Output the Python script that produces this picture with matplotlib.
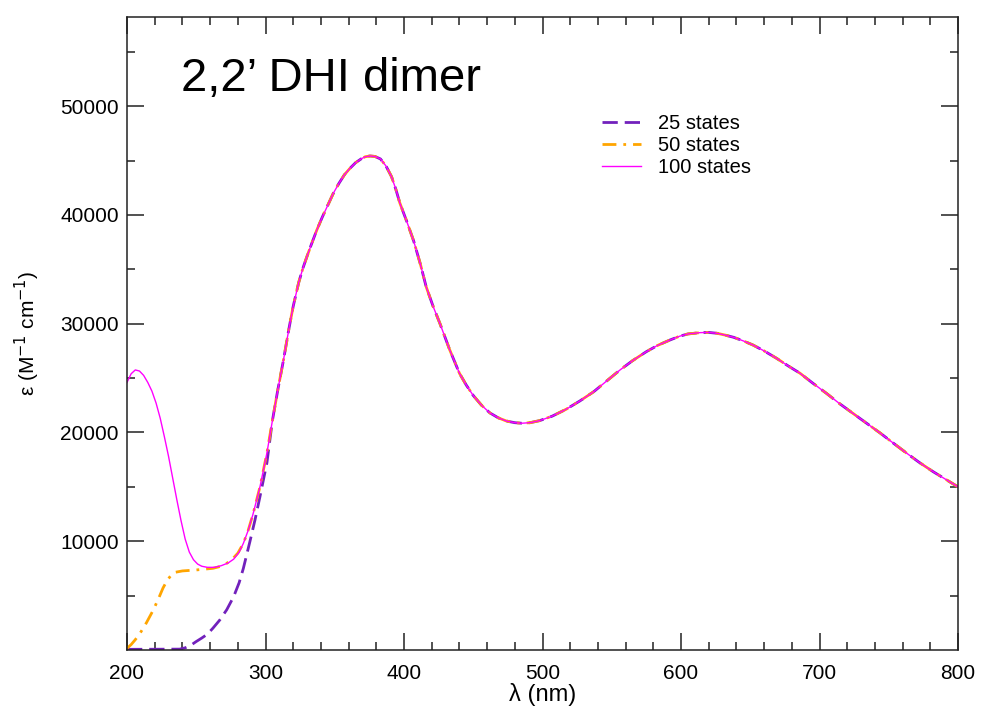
import numpy as np
import matplotlib
matplotlib.use("Agg")
import matplotlib.pyplot as plt

plt.rcParams['font.family'] = ['Liberation Sans', 'DejaVu Sans']

# part of the spectrum shared by all three calculations (nm, M^-1 cm^-1)
wl_main = [305, 309, 313, 317, 320, 324, 327, 330, 333, 337, 341, 345, 349, 353, 357, 361,
           365, 369, 372, 375.5, 379, 383, 387, 391, 394, 397, 402, 407, 412, 416, 421, 426,
           433, 440, 445, 450, 456, 462, 468, 474, 480, 485, 491, 498, 507, 517, 527, 537,
           546, 556, 565, 575, 583, 592, 599, 605, 614, 620, 626, 632, 638, 645, 652, 660,
           669, 677, 686, 695, 705, 714, 724, 734, 744, 753, 763, 772, 782, 791, 800]
eps_main = [21100, 24000, 26670, 29600, 31600, 33800, 35100, 36200, 37250, 38600, 39800,
            40900, 42000, 42900, 43700, 44290, 44800, 45150, 45350, 45420, 45380, 45150,
            44500, 43520, 42400, 41100, 39400, 37600, 35400, 33400, 31600, 30000, 27600,
            25450, 24350, 23400, 22500, 21800, 21350, 21050, 20900, 20850, 20900, 21090,
            21500, 22130, 22900, 23750, 24700, 25750, 26600, 27430, 28000, 28500, 28850,
            29060, 29180, 29200, 29120, 28950, 28750, 28420, 28040, 27500, 26820, 26150,
            25440, 24550, 23600, 22700, 21770, 20850, 19930, 19050, 18090, 17250, 16400,
            15700, 15000]

# short-wavelength part, different for each number of states
wl_25 = [200, 238, 242, 246, 250, 254, 258, 262, 267, 272, 277, 281, 284, 286.5, 288.8,
         292.4, 296, 301]
eps_25 = [60, 80, 200, 430, 780, 1100, 1450, 2000, 2760, 3700, 4900, 6200, 7500, 8800,
          10000, 11950, 14100, 17200]

wl_50 = [200, 203, 206, 209.4, 214, 219, 223, 226, 229, 232, 235, 240, 250, 262, 268, 272,
         276, 280, 284, 287.5, 291, 296, 301]
eps_50 = [150, 500, 950, 1530, 2500, 3680, 4800, 5700, 6400, 6900, 7150, 7270, 7360, 7510,
          7700, 7970, 8350, 8900, 9800, 11000, 12500, 15000, 18100]

wl_100 = [200, 203, 206, 209, 212, 215, 218, 221, 224, 227, 230, 233, 236, 239, 242, 245,
          248, 251, 254, 258, 263, 268, 273, 277, 281, 284, 287.5, 291, 296, 301]
eps_100 = [24600, 25400, 25750, 25650, 25250, 24600, 23800, 22700, 21300, 19600, 17800,
           15800, 13800, 11900, 10200, 9000, 8300, 7900, 7700, 7600, 7600, 7750, 8000, 8350,
           9000, 9800, 11000, 12500, 15000, 18100]

series = [
    ("25 states", wl_25, eps_25, "#7221BC", (0, (5.5, 2.5)), 2.0),
    ("50 states", wl_50, eps_50, "#FFA500", (0, (5, 2.5, 1, 2.5)), 2.0),
    ("100 states", wl_100, eps_100, "#FF00FF", "-", 1.0),
]

fig = plt.figure(figsize=(9.81, 7.09), dpi=100)
ax = fig.add_axes([127 / 981, 59 / 709, 831 / 981, 633 / 709])

for label, wl, eps, color, ls, lw in series:
    x = np.concatenate([wl, wl_main])
    y = np.concatenate([eps, eps_main])
    ax.plot(x, y, color=color, linestyle=ls, linewidth=lw, label=label)

ax.set_xlim(200, 800)
ax.set_ylim(0, 58200)
ax.set_xticks(np.arange(200, 801, 100))
ax.set_xticks(np.arange(200, 801, 20), minor=True)
ax.set_yticks(np.arange(10000, 50001, 10000))
ax.set_yticks(np.arange(5000, 58001, 5000), minor=True)

ax.tick_params(which='both', direction='in', top=True, right=True, width=1.1,
               colors='#222222', labelcolor='black', labelsize=15)
ax.tick_params(which='major', length=12, pad=6)
ax.tick_params(which='minor', length=6)
ax.tick_params(axis='x', pad=10)
for sp in ax.spines.values():
    sp.set_linewidth(1.1)
    sp.set_color('#222222')

ax.set_xlabel("λ (nm)", fontsize=17, labelpad=0)
ax.set_ylabel(r"ε (M$^{-1}$ cm$^{-1}$)", fontsize=15, labelpad=13)

ax.text(0.065, 0.883, "2,2’ DHI dimer", transform=ax.transAxes, fontsize=34,
        ha='left', va='baseline')

ax.legend(loc='upper left', bbox_to_anchor=(0.572, 0.847), frameon=False, fontsize=14.5,
          borderpad=0, borderaxespad=0, handlelength=1.9, handletextpad=0.85,
          labelspacing=0.15)

fig.savefig("out.png", dpi=100)
